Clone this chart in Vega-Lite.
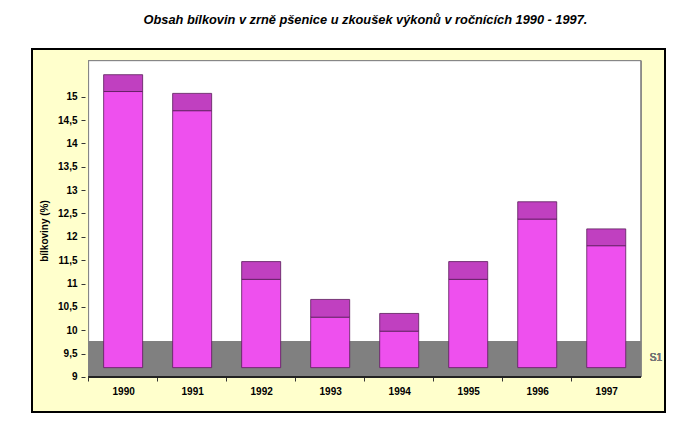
{
  "$schema": "https://vega.github.io/schema/vega-lite/v6.json",
  "width": 633,
  "height": 363,
  "autosize": {"type": "none"},
  "padding": {"left": 32, "top": 49, "right": 15, "bottom": 13},
  "background": "white",
  "config": {
    "view": {"fill": "#FFFFCC", "stroke": "black", "strokeWidth": 2},
    "font": "Liberation Sans"
  },
  "title": {
    "text": "Obsah bílkovin v zrně pšenice u zkoušek výkonů v ročnících 1990 - 1997.",
    "font": "Liberation Sans",
    "fontSize": 12.8,
    "fontStyle": "italic",
    "fontWeight": "bold",
    "color": "black",
    "anchor": "middle",
    "dx": 17,
    "offset": 22
  },
  "data": {
    "values": [
      {"rok": 1990, "front": 15.11, "top": 15.47},
      {"rok": 1991, "front": 14.70, "top": 15.07},
      {"rok": 1992, "front": 11.09, "top": 11.47},
      {"rok": 1993, "front": 10.28, "top": 10.66},
      {"rok": 1994, "front": 9.98, "top": 10.36},
      {"rok": 1995, "front": 11.09, "top": 11.47},
      {"rok": 1996, "front": 12.38, "top": 12.75},
      {"rok": 1997, "front": 11.81, "top": 12.17}
    ]
  },
  "encoding": {
    "x": {
      "field": "rok",
      "type": "quantitative",
      "scale": {"domain": [1988.752, 1997.779], "nice": false, "zero": false},
      "axis": {
        "title": null,
        "values": [1990, 1991, 1992, 1993, 1994, 1995, 1996, 1997, 1998],
        "format": "d",
        "labelExpr": "datum.value > 1997 ? '' : datum.label",
        "tickOffset": -35,
        "labelOffset": 35,
        "offset": -35,
        "domain": false,
        "grid": false,
        "tickSize": 4,
        "tickColor": "#333333",
        "labelPadding": 5,
        "labelFontSize": 10,
        "labelFontWeight": "bold",
        "labelColor": "black",
        "labelFlush": false,
        "labelOverlap": false
      }
    },
    "y": {
      "type": "quantitative",
      "scale": {"domain": [8.2505, 16.02], "nice": false, "zero": false},
      "axis": {
        "title": "bílkoviny (%)",
        "titleFontSize": 10,
        "titleFontWeight": "bold",
        "titleColor": "black",
        "titlePadding": 8,
        "values": [9, 9.5, 10, 10.5, 11, 11.5, 12, 12.5, 13, 13.5, 14, 14.5, 15],
        "labelExpr": "replace(format(datum.value, '.1~f'), '.', ',')",
        "offset": -53,
        "domain": false,
        "grid": false,
        "tickSize": 4,
        "tickColor": "#333333",
        "labelPadding": 4,
        "labelFontSize": 10,
        "labelFontWeight": "bold",
        "labelColor": "black"
      }
    }
  },
  "layer": [
    {
      "mark": {"type": "rect", "fill": "white", "stroke": "#808080", "strokeWidth": 1},
      "encoding": {
        "x": {"datum": 1989.5},
        "x2": {"datum": 1997.5},
        "y": {"datum": 9},
        "y2": {"datum": 15.77}
      }
    },
    {
      "mark": {"type": "rect", "fill": "#808080"},
      "encoding": {
        "x": {"datum": 1989.5},
        "x2": {"datum": 1997.5},
        "y": {"datum": 9},
        "y2": {"datum": 9.76}
      }
    },
    {
      "mark": {"type": "rule", "color": "#222222", "strokeWidth": 1},
      "encoding": {
        "x": {"datum": 1989.5},
        "x2": {"datum": 1997.5},
        "y": {"datum": 9}
      }
    },
    {
      "mark": {"type": "bar", "width": 39, "fill": "#EE50EE", "stroke": "#5A1A5A", "strokeWidth": 0.8},
      "encoding": {
        "y": {"field": "front"},
        "y2": {"datum": 9.2}
      }
    },
    {
      "mark": {"type": "bar", "width": 39, "fill": "#C040C0", "stroke": "#5A1A5A", "strokeWidth": 0.8},
      "encoding": {
        "y": {"field": "top"},
        "y2": {"field": "front"}
      }
    },
    {
      "mark": {"type": "text", "text": "S1", "align": "left", "baseline": "middle", "dx": 9, "fontSize": 10, "fontWeight": "normal", "color": "#777777"},
      "encoding": {
        "x": {"datum": 1997.5},
        "y": {"datum": 9.4}
      }
    }
  ]
}
